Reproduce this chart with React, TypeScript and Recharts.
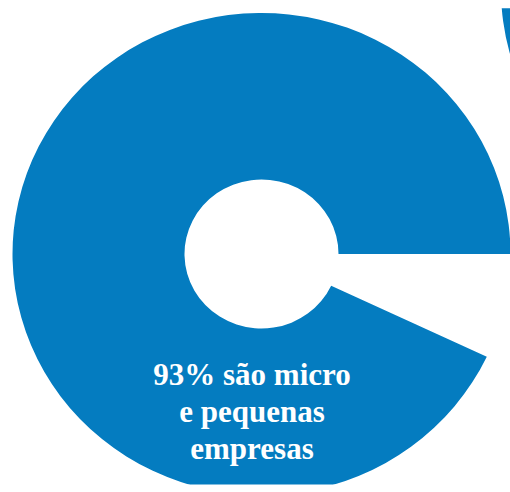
import React from 'react';
import { PieChart, Pie, Cell } from 'recharts';

// share of companies by size
const categories = ['Micro e pequenas', 'Demais'];
const shares = [93, 7];
const sliceColors = ['#047cc0', 'transparent'];

// neighbouring circle peeking in at the top right
const neighbourValues = [100];

const labelLines = ['93% são micro', 'e pequenas', 'empresas'];

const data = categories.map((name, i) => ({ name, value: shares[i] }));
const neighbour = neighbourValues.map((value) => ({ name: 'outro', value }));

// the original art is slightly squashed vertically
const squash = 0.968;
const centerY = 254;

const App: React.FC = () => {
    return (
        <div style={{ position: 'absolute', left: 0, top: 0, width: 510, height: 492, overflow: 'hidden', background: '#fff' }}>
            <div style={{ transform: `scaleY(${squash})`, transformOrigin: `0 ${centerY}px` }}>
                <PieChart width={510} height={492} margin={{ top: 0, right: 0, bottom: 0, left: 0 }}>
                    <Pie
                        data={data}
                        dataKey="value"
                        cx={261.5}
                        cy={centerY}
                        innerRadius={77}
                        outerRadius={249}
                        startAngle={0}
                        endAngle={360}
                        stroke="none"
                        isAnimationActive={false}
                    >
                        {data.map((d, i) => (
                            <Cell key={d.name} fill={sliceColors[i]} />
                        ))}
                    </Pie>
                    <Pie
                        data={neighbour}
                        dataKey="value"
                        cx={751}
                        cy={-19}
                        innerRadius={0}
                        outerRadius={250}
                        stroke="none"
                        fill="#047cc0"
                        isAnimationActive={false}
                    />
                </PieChart>
            </div>
            <div
                style={{
                    position: 'absolute',
                    left: 152,
                    width: 200,
                    top: 356,
                    textAlign: 'center',
                    color: '#fff',
                    fontFamily: '"Liberation Serif", "Times New Roman", serif',
                    fontWeight: 'bold',
                    fontSize: 31,
                    lineHeight: '37px',
                    whiteSpace: 'nowrap',
                }}
            >
                {labelLines.map((l) => (
                    <div key={l}>{l}</div>
                ))}
            </div>
        </div>
    );
};

export default App;
